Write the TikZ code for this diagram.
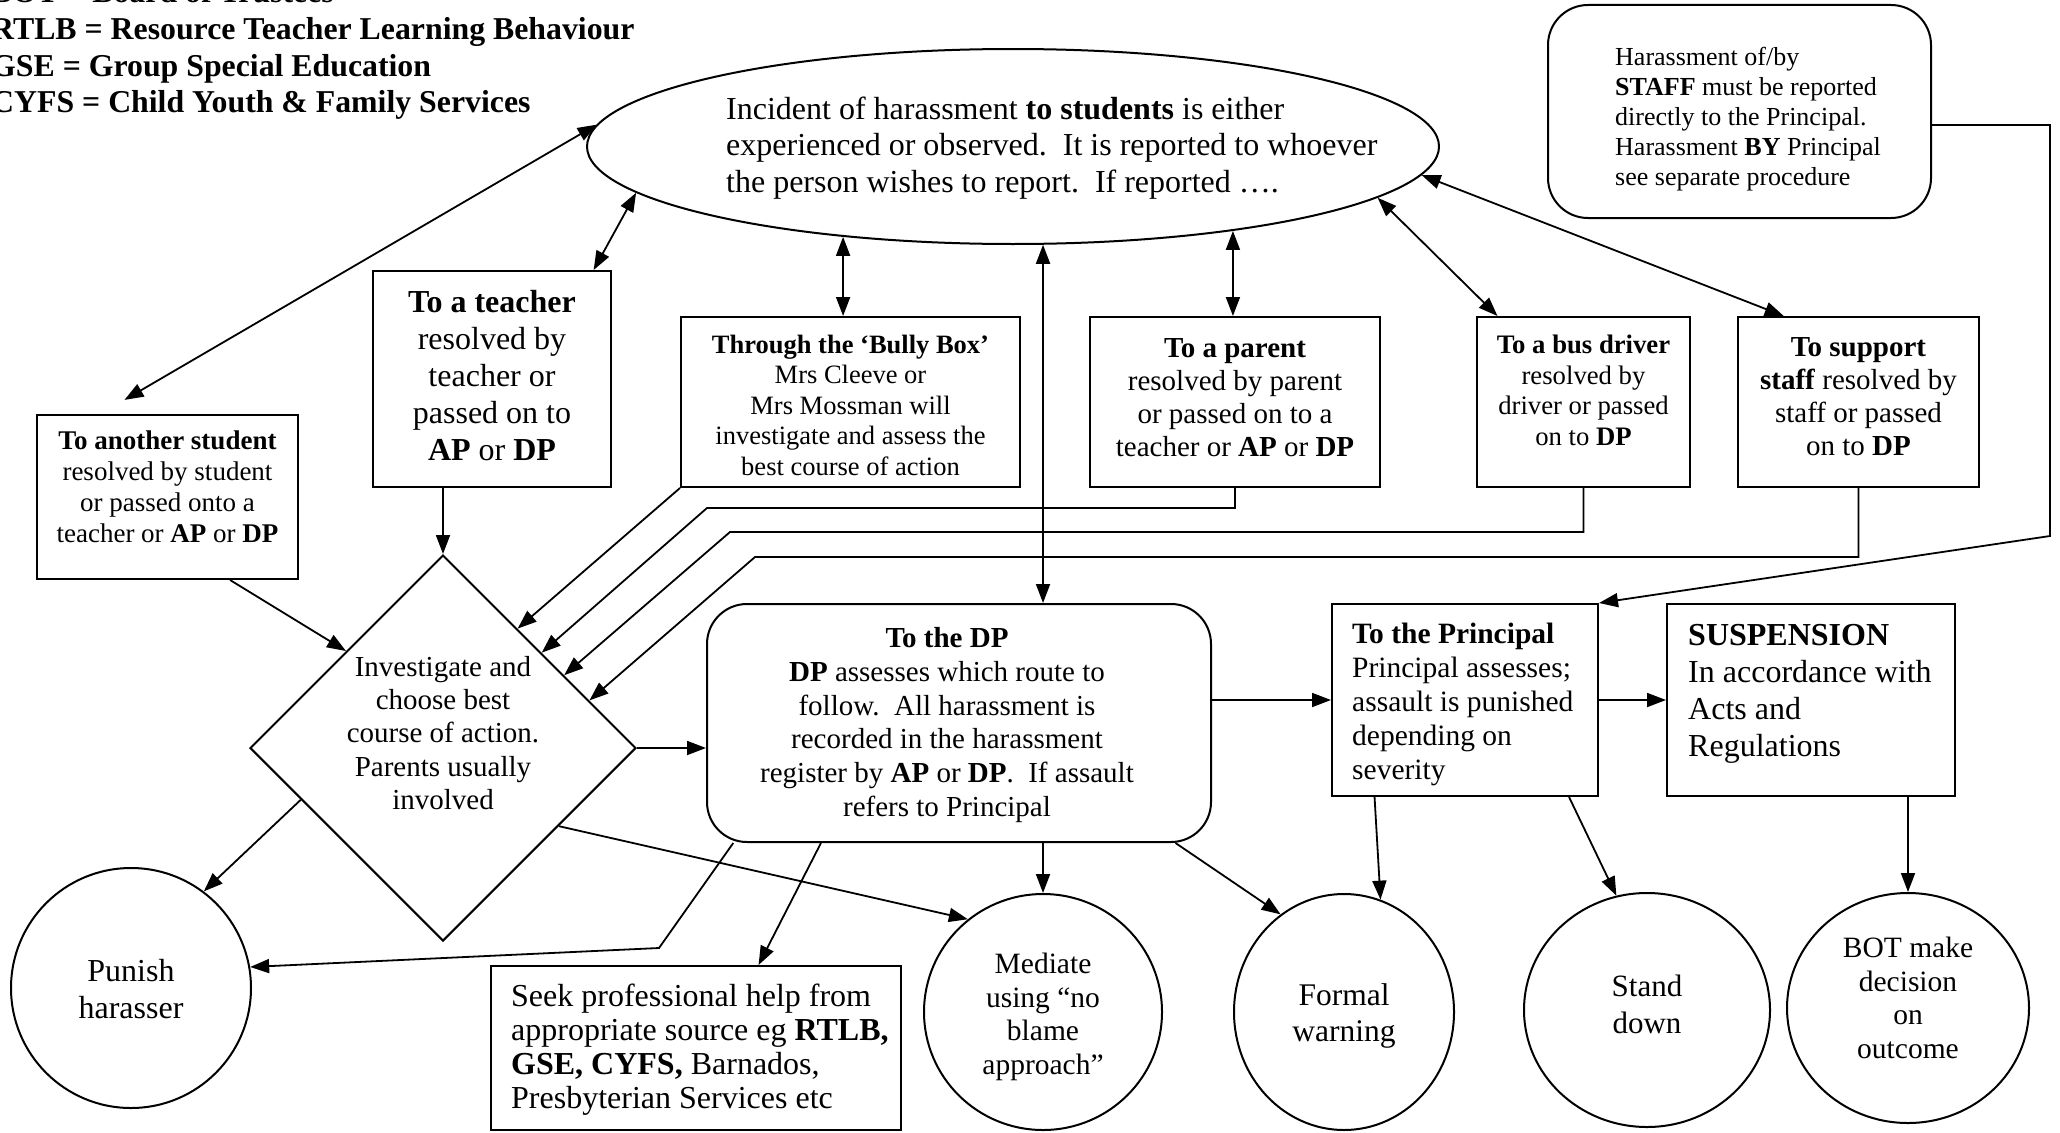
\documentclass[tikz,border=0pt]{standalone}
\usepackage{fontspec}
\setmainfont{Liberation Serif}
\usetikzlibrary{arrows.meta,shapes.geometric,calc}
\newcommand{\fsz}[2]{\fontsize{#1pt}{#2pt}\selectfont}
\tikzset{
  box/.style={draw, rectangle, inner sep=0pt, line width=2pt},
  rbox/.style={box, rounded corners=40pt},
  circ/.style={draw, ellipse, inner sep=0pt, line width=2pt},
  txt/.style={inner sep=0pt, align=center},
  ltxt/.style={inner sep=0pt, align=left, anchor=west},
  legend/.style={inner sep=0pt, anchor=base west, font=\fsz{31.8}{36}\bfseries},
  arr/.style={-{Triangle[length=19pt,width=14pt]}, line width=1.8pt},
  dbl/.style={{Triangle[length=19pt,width=14pt]}-{Triangle[length=19pt,width=14pt]}, line width=1.8pt},
  plain/.style={line width=1.8pt}
}
\begin{document}
\begin{tikzpicture}[x=1pt,y=-1pt]
\useasboundingbox (0,0) rectangle (2060,1132);
\clip (0,0) rectangle (2060,1132);

% legend (cut at the picture's top and left edges, as in the reference)
\node[legend] (lg1) at (-9,3) {BOT = Board of Trustees};
\node[legend] (lg2) at (-9,39.5) {RTLB = Resource Teacher Learning Behaviour};
\node[legend] (lg3) at (-9,76) {GSE = Group Special Education};
\node[legend] (lg4) at (-9,112.5) {CYFS = Child Youth \& Family Services};

% shapes
\node[circ, minimum width=852pt, minimum height=195pt] (main) at (1013,146.5) {};
\node[rbox, minimum width=383pt, minimum height=213pt] (staff) at (1739.5,111.5) {};
\node[box, minimum width=261pt, minimum height=164pt] (student) at (167.5,497) {};
\node[box, minimum width=238pt, minimum height=216pt] (teacher) at (492,379) {};
\node[box, minimum width=339pt, minimum height=170pt] (bully) at (850.5,402) {};
\node[box, minimum width=290pt, minimum height=170pt] (parent) at (1235,402) {};
\node[box, minimum width=213pt, minimum height=170pt] (bus) at (1583.5,402) {};
\node[box, minimum width=241pt, minimum height=170pt] (support) at (1858.5,402) {};
\node[draw, diamond, inner sep=0pt, line width=2pt, minimum width=386pt, minimum height=386pt] (diam) at (443,748) {};
\node[rbox, minimum width=504pt, minimum height=238pt] (dp) at (959,723) {};
\node[box, minimum width=266pt, minimum height=192pt] (principal) at (1465,700) {};
\node[box, minimum width=288pt, minimum height=192pt] (susp) at (1811,700) {};
\node[circ, minimum width=240pt, minimum height=240pt] (punish) at (131,988) {};
\node[box, minimum width=410pt, minimum height=164pt] (seek) at (696,1048) {};
\node[circ, minimum width=238pt, minimum height=236pt] (mediate) at (1043,1012) {};
\node[circ, minimum width=220pt, minimum height=236pt] (formal) at (1344,1012) {};
\node[circ, minimum width=246pt, minimum height=234pt] (stand) at (1647,1010) {};
\node[circ, minimum width=242pt, minimum height=230pt] (bot) at (1908,1008) {};

% texts
\node[ltxt, font=\fsz{32}{36.8}] (mainT) at (726,148) {Incident of harassment \textbf{to students} is either\\experienced or observed.\enskip It is reported to whoever\\the person wishes to report.\enskip If reported ….};
\node[ltxt, font=\fsz{26}{30}] (staffT) at (1615,119) {Harassment of/by\\\textbf{STAFF} must be reported\\directly to the Principal.\\Harassment \textbf{BY} Principal\\see separate procedure};
\node[txt, font=\fsz{27}{31}] (studentT) at (167.5,487) {\textbf{To another student}\\resolved by student\\or passed onto a\\teacher or \textbf{AP} or \textbf{DP}};
\node[txt, font=\fsz{32}{36.8}] (teacherT) at (492,375.5) {\textbf{To a teacher}\\resolved by\\teacher or\\passed on to\\\textbf{AP} or \textbf{DP}};
\node[txt, font=\fsz{26.5}{30.5}] (bullyT) at (850.5,405) {\textbf{Through the ‘Bully Box’}\\Mrs Cleeve or\\Mrs Mossman will\\investigate and assess the\\best course of action};
\node[txt, font=\fsz{29}{33}] (parentT) at (1235,397.5) {\textbf{To a parent}\\resolved by parent\\or passed on to a\\teacher or \textbf{AP} or \textbf{DP}};
\node[txt, font=\fsz{26.7}{30.5}] (busT) at (1583.5,390.5) {\textbf{To a bus driver}\\resolved by\\driver or passed\\on to \textbf{DP}};
\node[txt, font=\fsz{29}{33}] (supportT) at (1858.5,397) {\textbf{To support}\\\textbf{staff} resolved by\\staff or passed\\on to \textbf{DP}};
\node[txt, font=\fsz{29}{33.4}] (diamT) at (443,733) {Investigate and\\choose best\\course of action.\\Parents usually\\involved};
\node[txt, font=\fsz{29}{33.7}] (dpT) at (947,725) {\textbf{To the DP}\\\textbf{DP} assesses which route to\\follow.\enskip All harassment is\\recorded in the harassment\\register by \textbf{AP} or \textbf{DP}.\enskip If assault\\refers to Principal};
\node[ltxt, font=\fsz{29.5}{34}] (principalT) at (1352,704) {\textbf{To the Principal}\\Principal assesses;\\assault is punished\\depending on\\severity};
\node[ltxt, font=\fsz{32}{37}] (suspT) at (1688,694) {\textbf{SUSPENSION}\\In accordance with\\Acts and\\Regulations};
\node[txt, font=\fsz{32}{37}] (punishT) at (131,989) {Punish\\harasser};
\node[ltxt, font=\fsz{32}{34}] (seekT) at (511,1050) {Seek professional help from\\appropriate source eg \textbf{RTLB,}\\\textbf{GSE, CYFS,} Barnados,\\Presbyterian Services etc};
\node[txt, font=\fsz{29.5}{33.7}] (mediateT) at (1043,1017) {Mediate\\using “no\\blame\\approach”};
\node[txt, font=\fsz{31.5}{36}] (formalT) at (1344,1016) {Formal\\warning};
\node[txt, font=\fsz{31}{37}] (standT) at (1647,1004) {Stand\\down};
\node[txt, font=\fsz{29.5}{33.7}] (botT) at (1908,998) {BOT make\\decision\\on\\outcome};

% helper corners
\coordinate (c2) at (707,508);
\coordinate (c3) at (730,532);
\coordinate (c4) at (755,557);
\coordinate (c5) at (659,948);
\coordinate (sc) at (2050,536);

% connectors from main ellipse
\draw[dbl, shorten >=28pt] (main.177.5) -- (student.129);
\draw[dbl] (main.187.9) -- (teacher.47.8);
\draw[dbl] (main.208.9) -- (main.208.9 |- bully.north);
\draw[dbl] (main.287.1) -- (main.287.1 |- dp.north);
\draw[dbl] (main.339.5) -- (main.339.5 |- parent.north);
\draw[dbl] (main.352.4) -- (bus.135.2);
\draw[dbl] (main.356.8) -- (support.131.2);

% staff to principal
\draw[arr] (staff.356) -| (sc) -- (principal.north east);

% into diamond
\draw[arr] (student.307.3) -- (diam.135.3);
\draw[arr] (teacher.south -| diam.north) -- (diam.north);
\draw[arr] (bully.south west) -- (diam.58.7);
\draw[arr] (parent.south) |- (c2) -- (diam.44.8);
\draw[arr] (bus.south) |- (c3) -- (diam.31.1);
\draw[arr] (support.south) |- (c4) -- (diam.18.1);

% from diamond
\draw[arr] (diam.east) -- (diam.east -| dp.west);
\draw[arr] (diam.200) -- (punish.53);
\draw[arr] (diam.326.8) -- (mediate.129.9);

% from DP
\draw[arr] (dp.208) -- (c5) -- (punish.10);
\draw[arr] (dp.221.8) -- (seek.53.5);
\draw[arr] (dp.south -| mediate.north) -- (mediate.north);
\draw[arr] (dp.331.7) -- (formal.123);
\draw[arr] (dp.east |- principal.west) -- (principal.west);

% from principal
\draw[arr] (principal.east) -- (susp.west);
\draw[arr] (principal.227.8) -- (formal.72);
\draw[arr] (principal.317.8) -- (stand.105.3);
\draw[arr] (susp.south -| bot.north) -- (bot.north);
\end{tikzpicture}
\end{document}
